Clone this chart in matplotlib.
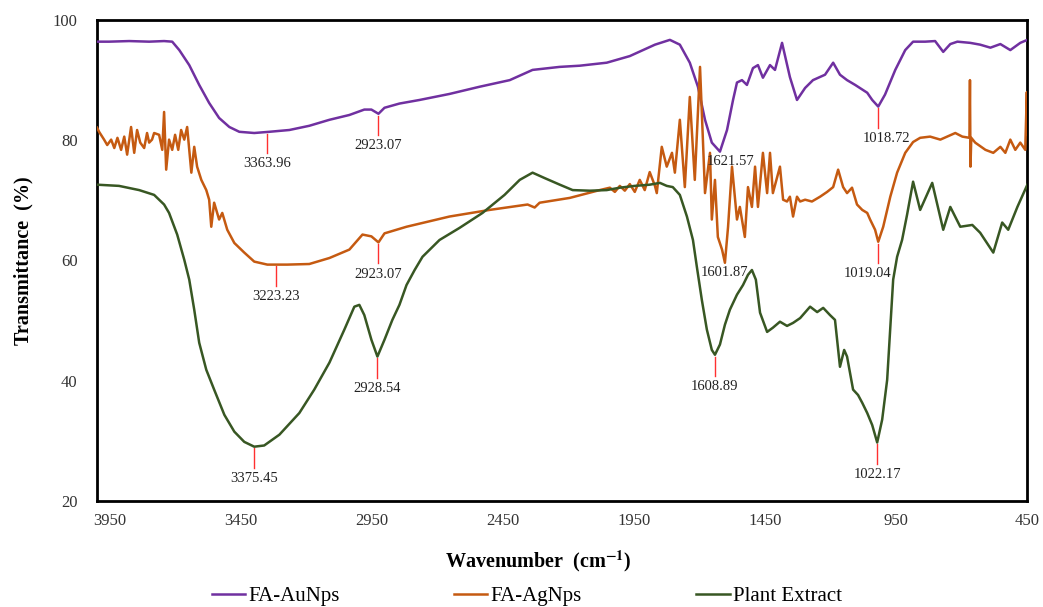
import matplotlib
matplotlib.use("Agg")
import matplotlib.pyplot as plt
import numpy as np

plt.rcParams['font.family'] = 'Liberation Serif'
plt.rcParams['mathtext.fontset'] = 'stix'

# FA-AuNps
au_wn = [4000, 3954, 3877, 3801, 3744, 3713, 3686, 3648, 3610, 3572,
         3534, 3495, 3457, 3400, 3343, 3266, 3190, 3113, 3037, 2980,
         2953, 2926, 2903, 2846, 2769, 2655, 2540, 2425, 2338, 2235,
         2158, 2055, 1967, 1871, 1814, 1776, 1738, 1707, 1680, 1654,
         1623, 1596, 1573, 1558, 1539, 1520, 1497, 1478, 1459, 1432,
         1413, 1386, 1356, 1329, 1298, 1268, 1222, 1191, 1165, 1138,
         1107, 1061, 1042, 1019, 993, 954, 916, 886, 840, 802,
         771, 744, 717, 668, 630, 591, 553, 515, 477, 450]
au_t = [96.4, 96.4, 96.5, 96.4, 96.5, 96.4, 95.0, 92.5, 89.2, 86.2,
        83.7, 82.2, 81.4, 81.2, 81.4, 81.7, 82.4, 83.4, 84.2, 85.1,
        85.1, 84.4, 85.4, 86.1, 86.7, 87.7, 88.9, 90.0, 91.7, 92.2,
        92.4, 92.9, 94.0, 95.9, 96.7, 95.9, 92.9, 88.9, 83.4, 79.6,
        78.1, 81.7, 86.7, 89.6, 90.0, 89.2, 92.0, 92.5, 90.4, 92.5,
        91.7, 96.2, 90.5, 86.7, 88.7, 90.0, 90.9, 92.9, 90.9, 90.0,
        89.2, 87.9, 86.7, 85.6, 87.6, 91.7, 95.0, 96.4, 96.4, 96.5,
        94.7, 96.0, 96.4, 96.2, 95.9, 95.4, 96.0, 95.0, 96.2, 96.7]

# FA-AgNps
ag_wn = [4000, 3992, 3973, 3961, 3946, 3934, 3922, 3908, 3896, 3885,
         3870, 3858, 3847, 3835, 3820, 3809, 3801, 3790, 3782, 3763,
         3751, 3744, 3736, 3725, 3713, 3702, 3690, 3679, 3667, 3656,
         3640, 3629, 3618, 3602, 3583, 3572, 3564, 3553, 3534, 3522,
         3503, 3476, 3438, 3400, 3350, 3274, 3190, 3113, 3037, 2987,
         2953, 2926, 2903, 2819, 2655, 2502, 2357, 2330, 2311, 2196,
         2082, 2043, 2024, 2005, 1986, 1967, 1948, 1929, 1910, 1891,
         1871, 1864, 1845, 1826, 1806, 1795, 1776, 1757, 1738, 1719,
         1699, 1680, 1661, 1654, 1642, 1631, 1615, 1604, 1592, 1577,
         1558, 1547, 1528, 1516, 1501, 1489, 1478, 1459, 1443, 1432,
         1421, 1394, 1382, 1367, 1356, 1344, 1329, 1317, 1298, 1272,
         1241, 1214, 1191, 1172, 1153, 1138, 1119, 1100, 1080, 1061,
         1050, 1031, 1019, 1000, 973, 947, 916, 886, 859, 821,
         782, 756, 725, 698, 671, 669, 667, 664, 649, 610,
         580, 553, 534, 515, 496, 477, 458, 452, 450]
ag_t = [82.1, 81.4, 80.1, 79.2, 80.1, 78.7, 80.4, 78.4, 80.6, 77.6,
        82.2, 77.9, 81.7, 79.6, 78.7, 81.2, 79.6, 80.1, 81.2, 80.9,
        78.4, 84.7, 75.1, 80.1, 78.4, 80.9, 78.4, 81.7, 80.1, 82.2,
        74.6, 78.9, 75.6, 73.4, 71.7, 70.1, 65.6, 69.6, 66.8, 67.9,
        65.1, 62.9, 61.3, 59.8, 59.3, 59.3, 59.4, 60.4, 61.8, 64.3,
        64.0, 63.0, 64.5, 65.6, 67.3, 68.4, 69.3, 68.8, 69.6, 70.4,
        71.7, 72.1, 71.4, 72.4, 71.6, 72.7, 71.4, 73.4, 71.7, 74.7,
        72.4, 71.2, 78.9, 75.6, 77.9, 74.6, 83.4, 72.2, 87.2, 73.4,
        92.2, 71.2, 77.9, 66.8, 73.4, 63.9, 61.8, 59.6, 65.6, 75.6,
        66.8, 68.9, 63.9, 72.2, 68.9, 75.6, 68.9, 77.9, 71.2, 77.9,
        71.2, 75.6, 70.1, 69.8, 70.6, 67.3, 70.6, 69.8, 70.1, 69.8,
        70.6, 71.4, 72.2, 75.1, 72.2, 71.2, 72.1, 69.3, 68.4, 67.9,
        66.8, 65.1, 63.1, 65.6, 70.6, 74.6, 77.9, 79.7, 80.4, 80.6,
        80.1, 80.6, 81.2, 80.6, 80.4, 90.0, 75.6, 80.4, 79.6, 78.4,
        77.9, 78.9, 77.9, 80.1, 78.4, 79.6, 78.4, 88.0, 81.0]

# Plant Extract
pe_wn = [4000, 3916, 3839, 3782, 3744, 3725, 3694, 3667, 3648, 3629,
         3610, 3583, 3553, 3514, 3476, 3438, 3400, 3362, 3304, 3228,
         3171, 3113, 3056, 3018, 2999, 2980, 2953, 2930, 2903, 2873,
         2846, 2819, 2788, 2758, 2693, 2617, 2529, 2445, 2387, 2338,
         2292, 2234, 2185, 2120, 2055, 2005, 1948, 1891, 1852, 1826,
         1803, 1776, 1749, 1726, 1711, 1692, 1673, 1654, 1642, 1623,
         1604, 1585, 1558, 1535, 1516, 1501, 1486, 1470, 1443, 1421,
         1394, 1367, 1344, 1317, 1279, 1252, 1229, 1203, 1184, 1165,
         1149, 1138, 1115, 1096, 1080, 1061, 1042, 1023, 1004, 985,
         962, 947, 928, 909, 886, 859, 813, 771, 744, 706,
         660, 630, 580, 546, 523, 488, 450]
pe_t = [72.6, 72.4, 71.7, 70.9, 69.3, 67.9, 64.3, 60.1, 56.8, 51.8,
        46.3, 41.8, 38.5, 34.3, 31.5, 29.8, 29.0, 29.2, 31.0, 34.6,
        38.5, 43.0, 48.5, 52.3, 52.6, 50.9, 46.8, 44.0, 46.8, 50.1,
        52.6, 55.9, 58.4, 60.6, 63.4, 65.4, 67.9, 70.9, 73.4, 74.6,
        73.7, 72.6, 71.7, 71.6, 71.7, 72.1, 72.4, 72.6, 72.9, 72.4,
        72.2, 70.9, 67.3, 63.4, 58.9, 53.4, 48.5, 45.1, 44.3, 46.0,
        49.3, 51.8, 54.3, 55.9, 57.6, 58.4, 56.8, 51.3, 48.1, 48.8,
        49.8, 49.1, 49.6, 50.4, 52.3, 51.4, 52.1, 50.9, 50.1, 42.3,
        45.1, 44.0, 38.5, 37.6, 36.3, 34.6, 32.6, 29.7, 33.5, 40.1,
        56.8, 60.6, 63.4, 67.6, 73.1, 68.4, 72.9, 65.1, 68.9, 65.6,
        65.9, 64.6, 61.3, 66.3, 65.1, 68.9, 72.6]

# peak marks: where they sit on the picture, and the printed value
au_peak_wn = [3350, 2926, 1623, 1019]
au_peak_text = ['3363.96', '2923.07', '1621.57', '1018.72']
ag_peak_wn = [3316, 2926, 1604, 1019]
ag_peak_text = ['3223.23', '2923.07', '1601.87', '1019.04']
pe_peak_wn = [3400, 2930, 1642, 1023]
pe_peak_text = ['3375.45', '2928.54', '1608.89', '1022.17']
hidden_ticks = ['1621.57', '1601.87']

x_ticks = [3950, 3450, 2950, 2450, 1950, 1450, 950, 450]
y_ticks = [20, 40, 60, 80, 100]

fig = plt.figure(figsize=(10.43, 6.07), dpi=100)
ax = fig.add_axes([0.093, 0.175, 0.892, 0.792])

series = [
    ('FA-AuNps', au_wn, au_t, au_peak_wn, au_peak_text, '#7030A0'),
    ('FA-AgNps', ag_wn, ag_t, ag_peak_wn, ag_peak_text, '#C55A11'),
    ('Plant Extract', pe_wn, pe_t, pe_peak_wn, pe_peak_text, '#385723'),
]

for name, wn, t, pk_wn, pk_text, col in series:
    ax.plot(wn, t, color=col, lw=1.8, label=name, zorder=3)
    wn_a = np.array(wn)[::-1]
    t_a = np.array(t)[::-1]
    for w, txt in zip(pk_wn, pk_text):
        y0 = np.interp(w, wn_a, t_a)
        dx = 0
        if txt == '1621.57':
            dx = -40
        if txt == '1018.72':
            dx = -30
        if txt == '1019.04':
            dx = 40
        if txt in hidden_ticks:
            ax.text(w + dx, y0 - 0.6, txt, ha='center', va='top',
                    fontsize=10.5, color='#222222', zorder=4)
            continue
        ax.plot([w, w], [y0 - 0.3, y0 - 3.5], color='#FF3030', lw=1.0, zorder=2)
        ax.text(w + dx, y0 - 4.2, txt, ha='center', va='top',
                fontsize=10.5, color='#222222', zorder=4)

ax.set_xlim(4000, 450)
ax.set_ylim(20, 100)
ax.set_xticks(x_ticks)
ax.set_yticks(y_ticks)
ax.tick_params(length=0, labelsize=12, labelcolor='#333333')
ax.tick_params(axis='x', pad=9)
ax.tick_params(axis='y', pad=14)
for s in ax.spines.values():
    s.set_linewidth(2.0)
    s.set_color('black')

ax.set_xlabel(r'Wavenumber  (cm$^{\mathbf{-1}}$)', fontsize=14.5, fontweight='bold')
ax.xaxis.set_label_coords(0.474, -0.1)
ax.set_ylabel('Transmittance  (%)', fontsize=14.5, fontweight='bold')
ax.yaxis.set_label_coords(-0.068, 0.5)

fig.legend(loc='lower center', bbox_to_anchor=(0.505, -0.03), ncol=3,
           frameon=False, fontsize=15, handlelength=1.6, handletextpad=0.15,
           columnspacing=5.5)

plt.savefig('out.png', dpi=100)
